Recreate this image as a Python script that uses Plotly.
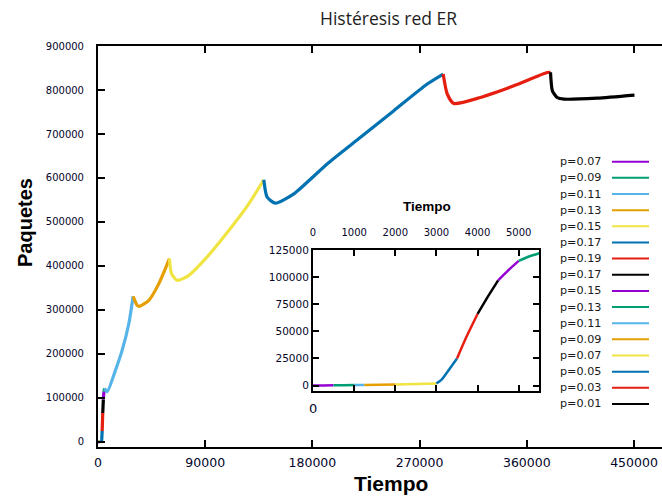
import plotly.graph_objects as go

# ---- data: one hysteresis run split into segments by loss probability ----
labels = ["p=0.07", "p=0.09", "p=0.11", "p=0.13", "p=0.15", "p=0.17", "p=0.19", "p=0.17",
          "p=0.15", "p=0.13", "p=0.11", "p=0.09", "p=0.07", "p=0.05", "p=0.03", "p=0.01"]

seg_t = [
    [0, 250, 500],
    [500, 750, 1000],
    [1000, 1250],
    [1250, 1600, 2000],
    [2000, 2500, 3000],
    [3000, 3120, 3330, 3500],
    [3500, 3730, 4000],
    [4000, 4250, 4500],
    [4500, 4750, 5000],
    [5000, 5250, 5500],
    [5500, 7700, 14700, 20300, 25900, 29500],
    [29500, 32900, 34800, 42700, 51100, 60000],
    [60000, 61700, 66500, 76300, 90300, 109800, 126600, 139200],
    [139200, 142000, 149000, 164400, 192400, 220400, 248400, 276400, 289800],
    [289800, 293200, 298700, 321100, 349100, 377100, 379900],
    [379900, 381500, 385500, 391100, 419100, 450400],
]
seg_y = [
    [0, 150, 300],
    [300, 400, 500],
    [500, 600],
    [600, 750, 900],
    [900, 1400, 2000],
    [2000, 5200, 16000, 25000],
    [25000, 45000, 66000],
    [66000, 82000, 97000],
    [97000, 106500, 115000],
    [115000, 119000, 122000],
    [122000, 114100, 163300, 208700, 269200, 331100],
    [331100, 310700, 308400, 322000, 359900, 416600],
    [416600, 382600, 367400, 378800, 416600, 480800, 541400, 596000],
    [596000, 556300, 542700, 564000, 632000, 692400, 753000, 813500, 836200],
    [836200, 790900, 769500, 783000, 809500, 839700, 840300],
    [840300, 798000, 783000, 779300, 781600, 788500],
]

main_x_ticks = [0, 90000, 180000, 270000, 360000, 450000]
main_y_ticks = [0, 100000, 200000, 300000, 400000, 500000, 600000, 700000, 800000, 900000]
inset_x_ticks = [0, 1000, 2000, 3000, 4000, 5000]
inset_y_ticks = [0, 25000, 50000, 75000, 100000, 125000]

palette = ["#9400D3", "#009E73", "#56B4E9", "#E69F00", "#F0E442", "#0072B2", "#E51E10", "#000000"]

W, H = 662, 500
L, R, T, B = 98, 662, 46, 447


def px(x):
    return (x - L) / (R - L)


def py(y):
    return (B - y) / (B - T)


fig = go.Figure()
for axes, width in ((("x", "y"), 3.2), (("x2", "y2"), 2.5)):
    for i, (t, y) in enumerate(zip(seg_t, seg_y)):
        c = palette[i % len(palette)]
        fig.add_trace(go.Scatter(x=t, y=y, mode="lines",
                                 line=dict(color=c, width=width, shape="spline", smoothing=0.6),
                                 name=labels[i], showlegend=False,
                                 xaxis=axes[0], yaxis=axes[1]))

tick_col = "#05052a"
axis_common = dict(showline=True, linecolor="black", linewidth=2, ticks="inside",
                   tickcolor="black", tickwidth=2, showgrid=False, zeroline=False,
                   tickformat="d")

fig.update_layout(
    width=W, height=H,
    margin=dict(l=L, r=W - R, t=T, b=H - B),
    paper_bgcolor="white", plot_bgcolor="white",
    xaxis=dict(**axis_common, range=[0, (R - L) / 107.2 * 90000], tickvals=main_x_ticks,
               ticklen=7, mirror="ticks", ticklabelstandoff=3,
               tickfont=dict(family="DejaVu Sans", size=12.5, color=tick_col)),
    yaxis=dict(**axis_common, range=[-11400, 900000], tickvals=main_y_ticks, ticklen=7,
               ticklabelstandoff=10,
               tickfont=dict(family="DejaVu Sans", size=10, color=tick_col)),
    xaxis2=dict(**axis_common, range=[0, 5500], tickvals=inset_x_ticks, ticklen=6,
                mirror="ticks", side="top", anchor="y2", ticklabelstandoff=8,
                domain=[px(313), px(539.3)],
                tickfont=dict(family="DejaVu Sans", size=10, color=tick_col)),
    yaxis2=dict(**axis_common, range=[-5000, 125000], tickvals=inset_y_ticks, ticklen=6,
                mirror="ticks", anchor="x2",
                domain=[py(391), py(250)],
                tickfont=dict(family="DejaVu Sans", size=10.5, color=tick_col)),
    showlegend=False,
)

ann = []
ann.append(dict(text="Histéresis red ER", xref="paper", yref="paper", x=px(388.5), y=py(18),
                showarrow=False, xanchor="center", yanchor="middle",
                font=dict(family="Open Sans", size=17.5, color="#1e1e1e")))
ann.append(dict(text="<b>Tiempo</b>", xref="paper", yref="paper", x=px(391), y=py(483),
                showarrow=False, xanchor="center", yanchor="middle",
                font=dict(family="Liberation Sans", size=21, color="black")))
ann.append(dict(text="<b>Paquetes</b>", xref="paper", yref="paper", x=px(25), y=py(223),
                showarrow=False, xanchor="center", yanchor="middle", textangle=-90,
                font=dict(family="Liberation Sans", size=20, color="black")))
ann.append(dict(text="<b>Tiempo</b>", xref="paper", yref="paper", x=px(427), y=py(206),
                showarrow=False, xanchor="center", yanchor="middle",
                font=dict(family="Liberation Sans", size=13.5, color="black")))
ann.append(dict(text="0", xref="paper", yref="paper", x=px(313), y=py(408),
                showarrow=False, xanchor="center", yanchor="middle",
                font=dict(family="DejaVu Sans", size=13, color=tick_col)))

shapes = []
for i, lab in enumerate(labels):
    yy = 161.7 + i * 16.15
    ann.append(dict(text=lab, xref="paper", yref="paper", x=px(603), y=py(yy),
                    showarrow=False, xanchor="right", yanchor="middle",
                    font=dict(family="DejaVu Sans", size=11.2, color="#1a1a1a")))
    shapes.append(dict(type="line", xref="paper", yref="paper",
                       x0=px(612), x1=px(649), y0=py(yy), y1=py(yy),
                       line=dict(color=palette[i % len(palette)], width=2)))

fig.update_layout(annotations=ann, shapes=shapes)
fig.write_html("out.html")
